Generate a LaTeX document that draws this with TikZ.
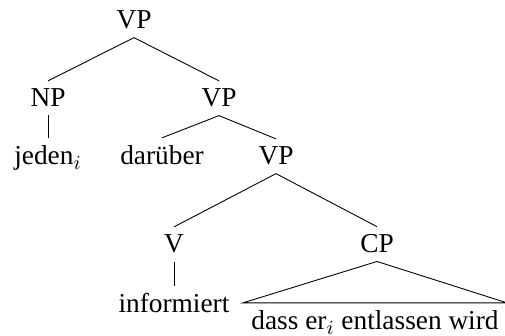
\documentclass[tikz,border=0pt]{standalone}
\usepackage{fontspec}
\setmainfont{Liberation Serif}
\usepackage{tikz}

\begin{document}
\begin{tikzpicture}[x=0.45pt,y=-0.45pt,
	every node/.style={font=\fontsize{12.3}{14}\selectfont, inner sep=3.5pt, anchor=base}]
	\useasboundingbox (0,0) rectangle (505,336);
	\node (vp1) at (134,29) {VP};
	\node (np) at (48,107) {NP};
	\node (vp2) at (219,107) {VP};
	\node (jeden) at (48,165) {jeden$_i$};
	\node (darueber) at (162,165) {darüber};
	\node (vp3) at (276,165) {VP};
	\node (v) at (174,253) {V};
	\node (cp) at (377,253) {CP};
	\node (inf) at (174,313) {informiert};
	\node (dass) at (375,330) {dass er$_i$ entlassen wird};
	\foreach \a/\b in {vp1/np, vp1/vp2, np/jeden, vp2/darueber, vp2/vp3, vp3/v, vp3/cp, v/inf}
		\draw (\a.south) -- (\b.north);
	\draw (cp.south) -- (dass.north west) -- (dass.north east) -- cycle;
\end{tikzpicture}
\end{document}
